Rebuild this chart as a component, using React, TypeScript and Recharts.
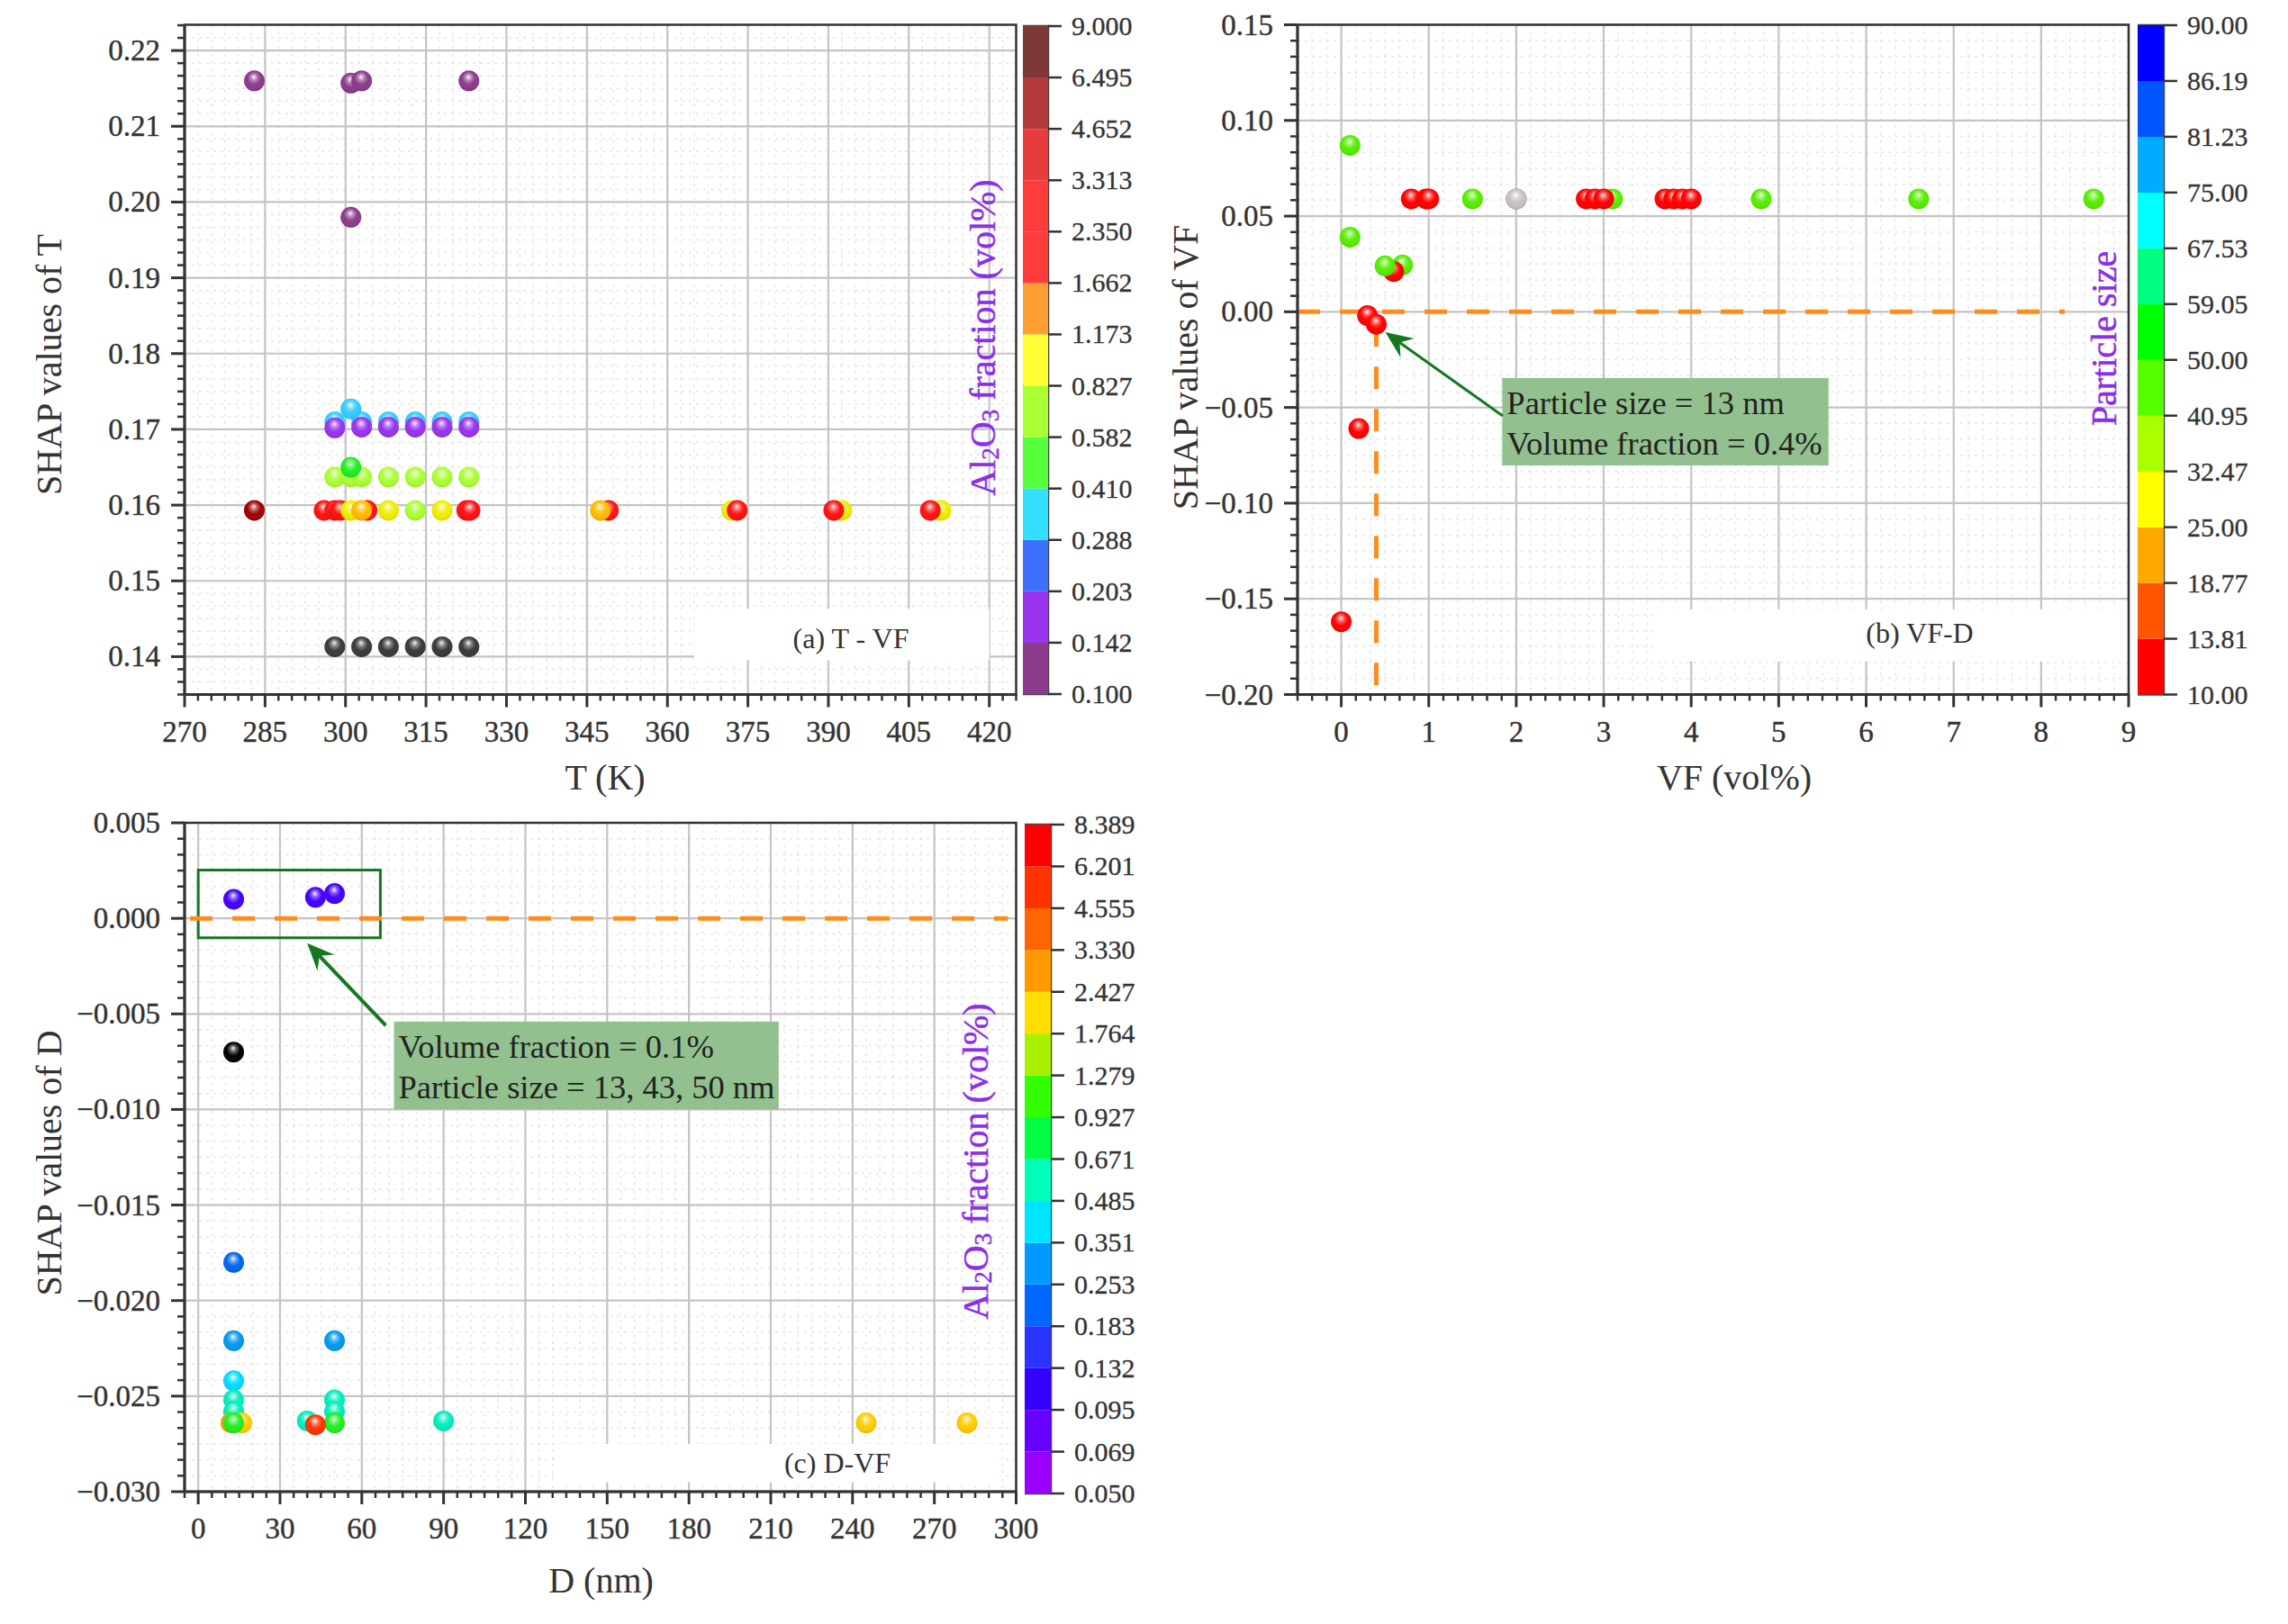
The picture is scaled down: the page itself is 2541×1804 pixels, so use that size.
import React from "react";
import {
  ScatterChart, Scatter, XAxis, YAxis, CartesianGrid, ReferenceArea, ReferenceLine,
  BarChart, Bar,
} from "recharts";

type Pt = { x: number; y: number };
const pts = (xs: number[], ys: number[]): Pt[] => xs.map((x, i) => ({ x, y: ys[i] }));

/* ---------- panel (a) T - VF ---------- */
const aMajorX = [270, 285, 300, 315, 330, 345, 360, 375, 390, 405, 420];
const aMajorY = [0.14, 0.15, 0.16, 0.17, 0.18, 0.19, 0.2, 0.21, 0.22];
const aCool = pts([283, 301, 303, 323, 301], [0.216, 0.2157, 0.216, 0.216, 0.198]);
const aCyanT = [298, 303, 308, 313, 318, 323, 301];
const aCyanS = [0.171, 0.171, 0.171, 0.171, 0.171, 0.171, 0.1727];
const aPurpleT = [298, 303, 308, 313, 318, 323];
const aPurpleS = [0.1702, 0.1703, 0.1703, 0.1703, 0.1703, 0.1703];
const aLimeT = [298, 301, 303, 308, 313, 318, 323];
const aLimeS = [0.1637, 0.1637, 0.1637, 0.1637, 0.1637, 0.1637, 0.1637];
const aGreen = pts([301], [0.165]);
const aYellowBackT = [372, 392.5, 411];
const aYellowBackS = [0.1593, 0.1593, 0.1593];
const aYellowT = [301, 308, 318];
const aYellowS = [0.1593, 0.1593, 0.1593];
const aLimeRow = pts([313], [0.1593]);
const aRedT = [296, 298, 299, 304, 322.6, 323.2, 349, 373, 391, 409];
const aRedS = [0.1593, 0.1593, 0.1593, 0.1593, 0.1593, 0.1593, 0.1593, 0.1593, 0.1593, 0.1593];
const aOrange = pts([303, 347.5], [0.1593, 0.1593]);
const aDarkRed = pts([283], [0.1593]);
const aBlackT = [298, 303, 308, 313, 318, 323];
const aBlackS = [0.1413, 0.1413, 0.1413, 0.1413, 0.1413, 0.1413];
const aBarLabels = ["0.100", "0.142", "0.203", "0.288", "0.410", "0.582", "0.827", "1.173", "1.662", "2.350", "3.313", "4.652", "6.495", "9.000"];
const aBarColors = ["#8c3a8c", "#9933ee", "#3d70ff", "#33e0ff", "#55ff3a", "#aaff33", "#ffff33", "#ff9f33", "#ff3b3b", "#ff3b3b", "#e83c3c", "#b33a3a", "#7f3838"];

/* ---------- panel (b) VF-D ---------- */
const bMajorX = [0, 1, 2, 3, 4, 5, 6, 7, 8, 9];
const bMajorY = [-0.2, -0.15, -0.1, -0.05, 0, 0.05, 0.1, 0.15];
const bGreenX = [0.1, 0.1, 1.5, 3.1, 4.8, 6.6, 8.6, 0.7];
const bGreenS = [0.087, 0.039, 0.059, 0.059, 0.059, 0.059, 0.059, 0.0245];
const bRedX = [0.8, 0.97, 1.0, 2.0, 2.8, 2.9, 3.0, 3.7, 3.8, 3.9, 4.0, 0.6, 0.3, 0.4, 0.2, 0];
const bRedS = [0.059, 0.059, 0.059, 0.059, 0.059, 0.059, 0.059, 0.059, 0.059, 0.059, 0.059, 0.021, -0.002, -0.0065, -0.061, -0.162];
const bGreenTop = pts([0.5], [0.024]);
const bGrey = pts([2], [0.059]);
const bBarLabels = ["10.00", "13.81", "18.77", "25.00", "32.47", "40.95", "50.00", "59.05", "67.53", "75.00", "81.23", "86.19", "90.00"];
const bBarColors = ["#ff0000", "#ff5500", "#ffaa00", "#ffff00", "#aaff00", "#55ff00", "#00ff00", "#00ff80", "#00ffff", "#00aaff", "#0055ff", "#0000ff"];

/* ---------- panel (c) D-VF ---------- */
const cMajorX = [0, 30, 60, 90, 120, 150, 180, 210, 240, 270, 300];
const cMajorY = [-0.03, -0.025, -0.02, -0.015, -0.01, -0.005, 0, 0.005];
const cViolet = pts([13, 43, 50], [0.001, 0.0011, 0.0013]);
const cBlack = pts([13], [-0.007]);
const cBlue = pts([13], [-0.018]);
const cAzure = pts([13, 50], [-0.0221, -0.0221]);
const cCyan = pts([13], [-0.0242]);
const cTeal = pts([13, 13, 50, 50, 40, 90], [-0.0252, -0.0258, -0.0252, -0.0258, -0.0263, -0.0263]);
const cOrange = pts([12], [-0.0264]);
const cGold = pts([16, 245, 282], [-0.0264, -0.0264, -0.0264]);
const cGreen = pts([13, 50], [-0.0264, -0.0264]);
const cRed = pts([43], [-0.0265]);
const cBarLabels = ["0.050", "0.069", "0.095", "0.132", "0.183", "0.253", "0.351", "0.485", "0.671", "0.927", "1.279", "1.764", "2.427", "3.330", "4.555", "6.201", "8.389"];
const cBarColors = ["#9900ff", "#6600ff", "#3300ff", "#2b33ff", "#0066ff", "#0099ff", "#00e5ff", "#00ffbb", "#00ff44", "#33ff00", "#aaee00", "#ffdd00", "#ff9900", "#ff6600", "#ff3300", "#ff0000"];

const FONT = "'Liberation Serif', serif";
const INK = "#333";
const ORANGE = "#ff8c1a";
const ARROW = "#14781e";
const NOTE = "#93c08f";
const PURPLE = "#8b2fe8";

const ballColors = ["#8c3a8c", "#33ccff", "#9933ee", "#aaff33", "#22ee22", "#eeee00", "#ff1111", "#ffbb00", "#a00000", "#3a3a3a", "#55ee00", "#ff0000", "#c4c4c4", "#4400ff", "#000000", "#0066ee", "#0099ee", "#00ddff", "#00eebb", "#ffcc00", "#ff9900", "#ff3300"];
const gid = (c: string) => "ball" + c.replace("#", "");

const Ball = ({ cx, cy, color }: any) => (
  <g>
    <circle cx={cx} cy={cy} r={11.5} fill={color} />
    <circle cx={cx} cy={cy} r={11.5} fill={`url(#${gid(color)})`} />
  </g>
);

const withMinor = (majors: number[], n: number, lo: number, hi: number) => {
  const step = (majors[1] - majors[0]) / n;
  const out: number[] = [];
  for (let v = majors[0] - step * n; v <= hi + step / 10; v += step) {
    if (v >= lo - step / 10) out.push(+v.toFixed(6));
  }
  return out;
};
const isMajor = (v: number, majors: number[]) => majors.some((m) => Math.abs(m - v) < 1e-5);
const fmt = (v: number, d: number) => v.toFixed(d).replace("-", "\u2212");

const XTick = ({ x, y, payload, majors }: any) => {
  const major = isMajor(payload.value, majors);
  return (
    <g>
      <line x1={x} x2={x} y1={y} y2={y + (major ? 14 : 7)} stroke={INK} strokeWidth={major ? 3 : 2.5} />
      {major && (
        <text x={x} y={y + 52} textAnchor="middle" fontFamily={FONT} fontSize={33} fill={INK} stroke={INK} strokeWidth={0.4}>
          {payload.value}
        </text>
      )}
    </g>
  );
};
const YTick = ({ x, y, payload, majors, dec }: any) => {
  const major = isMajor(payload.value, majors);
  return (
    <g>
      <line x1={x} x2={x - (major ? 15 : 8)} y1={y} y2={y} stroke={INK} strokeWidth={major ? 3 : 2.5} />
      {major && (
        <text x={x - 27} y={y + 11} textAnchor="end" fontFamily={FONT} fontSize={33} fill={INK} stroke={INK} strokeWidth={0.4}>
          {fmt(payload.value, dec)}
        </text>
      )}
    </g>
  );
};

const Arrow = ({ x1, y1, x2, y2, w }: any) => {
  const a = Math.atan2(y2 - y1, x2 - x1);
  const L = 30, B = 13;
  const bx = x2 - L * Math.cos(a), by = y2 - L * Math.sin(a);
  const nx = x2 - (L * 0.65) * Math.cos(a), ny = y2 - (L * 0.65) * Math.sin(a);
  const px = -Math.sin(a) * B, py = Math.cos(a) * B;
  return (
    <g>
      <line x1={x1} y1={y1} x2={nx} y2={ny} stroke={ARROW} strokeWidth={w} />
      <polygon points={`${x2},${y2} ${bx + px},${by + py} ${nx},${ny} ${bx - px},${by - py}`} fill={ARROW} />
    </g>
  );
};

const NoteBox = ({ x, y, width, height, lines }: any) => (
  <g>
    <rect x={x} y={y} width={width} height={height} fill={NOTE} />
    {lines.map((t: string, i: number) => (
      <text key={t} x={x + 5} y={y + 40 + i * 45} fontFamily={FONT} fontSize={36.5} fill="#222">{t}</text>
    ))}
  </g>
);

const TagBox = ({ x, y, width, height, text, tx, ty }: any) => (
  <g>
    <rect x={x} y={y} width={width} height={height} fill="#fff" />
    <text x={tx} y={ty} textAnchor="middle" fontFamily={FONT} fontSize={32} fill={INK}>{text}</text>
  </g>
);

const AxisTitle = ({ x, y, rot, text }: any) => (
  <text x={x} y={y} textAnchor="middle" dominantBaseline="central" fontFamily={FONT} fontSize={40} fill={INK}
    transform={rot ? `rotate(-90 ${x} ${y})` : undefined}>{text}</text>
);

type Series = { color: string; data: Pt[] };

const Panel = ({ left, top, width, height, plot, xDom, yDom, xMajor, yMajor, xN, yN, dec, xTitle, yTitle, series, children }: any) => {
  const xTicks = withMinor(xMajor, xN, xDom[0], xDom[1]);
  const yTicks = withMinor(yMajor, yN, yDom[0], yDom[1]);
  return (
    <div style={{ position: "absolute", left, top, width, height }}>
      <ScatterChart
        width={width}
        height={height}
        margin={{ left: 0, top: plot.t - top, right: width - (plot.r - left), bottom: 0 }}
      >
        <CartesianGrid horizontalValues={yTicks} verticalValues={xTicks} stroke="#e6e6e6" strokeWidth={1.5} strokeDasharray="3 5" />
        <CartesianGrid horizontalValues={yMajor} verticalValues={xMajor} stroke="#c4c4c4" strokeWidth={2.2} />
        <XAxis
          dataKey="x" type="number" domain={xDom} ticks={xTicks} interval={0} allowDataOverflow
          height={top + height - plot.b} tickSize={0} tickMargin={0} tickLine={false}
          axisLine={{ stroke: INK, strokeWidth: 3 }}
          tick={(p: any) => <XTick {...p} majors={xMajor} />}
          label={{ content: () => <AxisTitle x={xTitle.x - left} y={xTitle.y - top} text={xTitle.text} /> }}
        />
        <YAxis
          dataKey="y" type="number" domain={yDom} ticks={yTicks} interval={0} allowDataOverflow
          width={plot.l - left} tickSize={0} tickMargin={0} tickLine={false}
          axisLine={{ stroke: INK, strokeWidth: 3 }}
          tick={(p: any) => <YTick {...p} majors={yMajor} dec={dec} />}
          label={{ content: () => <AxisTitle rot x={yTitle.x - left} y={yTitle.y - top} text={yTitle.text} /> }}
        />
        {children}
        <ReferenceArea x1={xDom[0]} x2={xDom[1]} y1={yDom[0]} y2={yDom[1]} fill="none" stroke={INK} strokeWidth={2.5} />
        {series.map((s: Series, i: number) => (
          <Scatter
            key={i}
            data={s.data}
            fill={s.color}
            isAnimationActive={false}
            shape={(p: any) => <Ball cx={p.cx} cy={p.cy} color={s.color} />}
          />
        ))}
      </ScatterChart>
    </div>
  );
};

const ColorBar = ({ left, top, barW, bottom, labels, colors }: any) => {
  const row: any = { name: "scale" };
  colors.forEach((_: string, i: number) => (row["s" + i] = 1));
  const n = colors.length;
  const all = colors.map((_: string, i: number) => i).concat([n]);
  return (
    <div style={{ position: "absolute", left, top: top - 20, width: barW + 110, height: bottom - top + 50 }}>
      <BarChart
        width={barW + 110}
        height={bottom - top + 50}
        data={[row]}
        barCategoryGap={0}
        margin={{ left: 0, right: 0, top: 20, bottom: 30 }}
      >
        <XAxis dataKey="name" hide />
        <YAxis
          orientation="right" type="number" domain={[0, n]} ticks={all} interval={0} width={110}
          tickSize={0} tickMargin={0} tickLine={false} axisLine={false}
          tick={(p: any) => (
            <g>
              <line x1={p.x} x2={p.x + 15} y1={p.y} y2={p.y} stroke={INK} strokeWidth={2.5} />
              <text x={p.x + 26} y={p.y + 10} fontFamily={FONT} fontSize={30} fill={INK} stroke={INK} strokeWidth={0.3}>
                {labels[p.payload.value]}
              </text>
            </g>
          )}
        />
        {colors.map((c: string, i: number) => (
          <Bar key={i} dataKey={"s" + i} stackId="scale" fill={c} isAnimationActive={false} />
        ))}
        <ReferenceArea y1={0} y2={n} fill="none" stroke="#444" strokeWidth={2.5} />
      </BarChart>
    </div>
  );
};

const VolTitle = ({ x, y }: any) => (
  <text x={x} y={y} textAnchor="middle" dominantBaseline="central" fontFamily={FONT} fontSize={40} fill={PURPLE}
    stroke={PURPLE} strokeWidth={0.5} transform={`rotate(-90 ${x} ${y})`}>
    Al<tspan dy={9} fontSize={27}>2</tspan><tspan dy={-9}>O</tspan><tspan dy={9} fontSize={27}>3</tspan><tspan dy={-9}> fraction (vol%)</tspan>
  </text>
);

const aSeries: Series[] = [
  { color: "#8c3a8c", data: aCool },
  { color: "#33ccff", data: pts(aCyanT, aCyanS) },
  { color: "#9933ee", data: pts(aPurpleT, aPurpleS) },
  { color: "#aaff33", data: pts(aLimeT, aLimeS) },
  { color: "#22ee22", data: aGreen },
  { color: "#eeee00", data: pts(aYellowBackT, aYellowBackS) },
  { color: "#ff1111", data: pts(aRedT, aRedS) },
  { color: "#eeee00", data: pts(aYellowT, aYellowS) },
  { color: "#aaff33", data: aLimeRow },
  { color: "#ffbb00", data: aOrange },
  { color: "#a00000", data: aDarkRed },
  { color: "#3a3a3a", data: pts(aBlackT, aBlackS) },
];
const bSeries: Series[] = [
  { color: "#55ee00", data: pts(bGreenX, bGreenS) },
  { color: "#ff0000", data: pts(bRedX, bRedS) },
  { color: "#55ee00", data: bGreenTop },
  { color: "#c4c4c4", data: bGrey },
];
const cSeries: Series[] = [
  { color: "#4400ff", data: cViolet },
  { color: "#000000", data: cBlack },
  { color: "#0066ee", data: cBlue },
  { color: "#0099ee", data: cAzure },
  { color: "#00ddff", data: cCyan },
  { color: "#00eebb", data: cTeal },
  { color: "#ff9900", data: cOrange },
  { color: "#ffcc00", data: cGold },
  { color: "#22ee22", data: cGreen },
  { color: "#ff3300", data: cRed },
];

export default function App() {
  return (
    <div style={{ position: "absolute", left: 0, top: 0, width: 2541, height: 1804, background: "#fff", overflow: "hidden" }}>
      <svg width={0} height={0} style={{ position: "absolute" }}>
        <defs>
          {ballColors.map((c) => (
            <radialGradient key={c} id={gid(c)} cx="0.5" cy="0.42" r="0.55" fx="0.47" fy="0.3">
              <stop offset="0" stopColor="#fff" stopOpacity={0.95} />
              <stop offset="0.3" stopColor="#fff" stopOpacity={0.35} />
              <stop offset="0.6" stopColor="#fff" stopOpacity={0} />
              <stop offset="1" stopColor="#000" stopOpacity={0.08} />
            </radialGradient>
          ))}
        </defs>
      </svg>

      <Panel
        left={0} top={0} width={1170} height={900}
        plot={{ l: 205, r: 1128.5, t: 27.5, b: 771.5 }}
        xDom={[270, 425]} yDom={[0.135, 0.2234]} xMajor={aMajorX} yMajor={aMajorY} xN={6} yN={6} dec={2}
        xTitle={{ x: 672, y: 863, text: "T (K)" }} yTitle={{ x: 54, y: 405, text: "SHAP values of T" }}
        series={aSeries}
      >
        <ReferenceArea
          x1={365} x2={420} y1={0.1395} y2={0.1463}
          shape={(p: any) => <TagBox {...p} text="(a) T - VF" tx={945} ty={720} />}
        />
      </Panel>

      <Panel
        left={1290} top={0} width={1120} height={900}
        plot={{ l: 1441, r: 2364, t: 27.5, b: 771.5 }}
        xDom={[-0.5, 9]} yDom={[-0.2, 0.15]} xMajor={bMajorX} yMajor={bMajorY} xN={6} yN={6} dec={2}
        xTitle={{ x: 1926, y: 863, text: "VF (vol%)" }} yTitle={{ x: 1316, y: 408, text: "SHAP values of VF" }}
        series={bSeries}
      >
        <ReferenceArea
          x1={3.56} x2={9} y1={-0.1827} y2={-0.1555}
          shape={(p: any) => <TagBox {...p} text="(b) VF-D" tx={842} ty={714} />}
        />
        <ReferenceLine segment={[{ x: -0.5, y: 0 }, { x: 8.27, y: 0 }]} stroke={ORANGE} strokeWidth={5} strokeDasharray="25 22" />
        <ReferenceLine segment={[{ x: 0.4, y: -0.0065 }, { x: 0.4, y: -0.2 }]} stroke={ORANGE} strokeWidth={5} strokeDasharray="25 22" />
        <ReferenceLine
          segment={[{ x: 1.846, y: -0.0544 }, { x: 0.504, y: -0.0107 }]}
          shape={(p: any) => <Arrow {...p} w={3} />}
        />
        <ReferenceArea
          x1={1.84} x2={5.57} y1={-0.0803} y2={-0.0346}
          shape={(p: any) => <NoteBox {...p} lines={["Particle size = 13 nm", "Volume fraction = 0.4%"]} />}
        />
      </Panel>

      <Panel
        left={0} top={880} width={1170} height={924}
        plot={{ l: 205, r: 1128.5, t: 914, b: 1657 }}
        xDom={[-5, 300]} yDom={[-0.03, 0.005]} xMajor={cMajorX} yMajor={cMajorY} xN={6} yN={6} dec={3}
        xTitle={{ x: 667.5, y: 1755, text: "D (nm)" }} yTitle={{ x: 54, y: 1292, text: "SHAP values of D" }}
        series={cSeries}
      >
        <ReferenceArea
          x1={131} x2={294} y1={-0.0295} y2={-0.0275}
          shape={(p: any) => <TagBox {...p} text="(c) D-VF" tx={930} ty={756} />}
        />
        <ReferenceLine segment={[{ x: -3, y: 0 }, { x: 297, y: 0 }]} stroke={ORANGE} strokeWidth={5} strokeDasharray="25 22" />
        <ReferenceArea x1={0} x2={66.8} y1={-0.00102} y2={0.00253} fill="none" stroke={ARROW} strokeWidth={3} />
        <ReferenceLine
          segment={[{ x: 68.8, y: -0.0056 }, { x: 40, y: -0.0013 }]}
          shape={(p: any) => <Arrow {...p} w={4} />}
        />
        <ReferenceArea
          x1={71.8} x2={212.9} y1={-0.01} y2={-0.0054}
          shape={(p: any) => <NoteBox {...p} lines={["Volume fraction = 0.1%", "Particle size = 13, 43, 50 nm"]} />}
        />
      </Panel>

      <ColorBar left={1136} top={29} barW={28} bottom={771} labels={aBarLabels} colors={aBarColors} />
      <ColorBar left={2374} top={28} barW={29} bottom={771.5} labels={bBarLabels} colors={bBarColors} />
      <ColorBar left={1138} top={916} barW={29} bottom={1659} labels={cBarLabels} colors={cBarColors} />

      <svg width={2541} height={1804} style={{ position: "absolute", left: 0, top: 0, pointerEvents: "none" }}>
        <VolTitle x={1091} y={375} />
        <VolTitle x={1083} y={1290} />
        <text x={2336} y={376} textAnchor="middle" dominantBaseline="central" fontFamily={FONT} fontSize={40} fill={PURPLE}
          stroke={PURPLE} strokeWidth={0.5} transform="rotate(-90 2336 376)">Particle size</text>
      </svg>
    </div>
  );
}
